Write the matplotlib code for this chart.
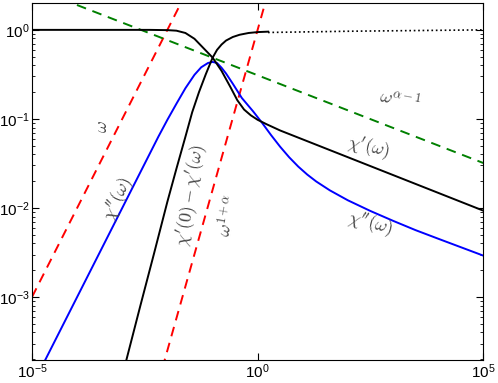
import numpy as np
import matplotlib.pyplot as plt
from matplotlib.ticker import FixedLocator, NullLocator, LogLocator

plt.rcParams['font.family'] = ['Liberation Sans', 'DejaVu Sans']
plt.rcParams['mathtext.fontset'] = 'cm'

# chi'(w) (log10 values)
re_lx = [-5.0, -2.4, -2.0, -1.8, -1.6, -1.4, -1.2, -1.0, -0.8, -0.6, -0.45,
         -0.3, -0.15, 0.0, 0.2, 0.5, 1.0, 2.0, 3.0, 4.0, 5.0]
re_ly = [0.0, 0.0, -0.003, -0.009, -0.035, -0.1, -0.205, -0.31, -0.46, -0.645, -0.79,
         -0.895, -0.96, -1.01, -1.06, -1.13, -1.23, -1.43, -1.63, -1.83, -2.03]

# chi'(0) - chi'(w)
dre_lx = [-3.1, -2.9, -2.6, -2.3, -2.0, -1.8, -1.6, -1.45, -1.3, -1.15, -1.0,
          -0.9, -0.8, -0.7, -0.55, -0.4, -0.2, 0.0, 0.233]
dre_ly = [-4.08, -3.69, -3.10, -2.52, -1.93, -1.56, -1.2, -0.925, -0.70, -0.50, -0.315,
          -0.225, -0.165, -0.12, -0.08, -0.055, -0.035, -0.025, -0.02]

# chi''(w)
im_lx = [-5.0, -4.5, -4.0, -3.5, -3.0, -2.5, -2.2, -2.0, -1.8, -1.6, -1.4, -1.25,
         -1.1, -1.0, -0.9, -0.8, -0.7, -0.55, -0.35, -0.1, 0.1, 0.3, 0.5, 0.7,
         0.9, 1.1, 1.3, 1.6, 2.0, 2.5, 3.0, 3.5, 4.0, 4.5, 5.0]
im_ly = [-4.0, -3.5, -3.0, -2.5, -2.0, -1.5, -1.2, -1.01, -0.83, -0.655, -0.505, -0.42,
         -0.372, -0.36, -0.372, -0.425, -0.49, -0.605, -0.765, -0.915, -1.045, -1.183, -1.313, -1.431,
         -1.535, -1.625, -1.703, -1.802, -1.914, -2.034, -2.144, -2.249, -2.345, -2.44, -2.535]

# dotted continuation
dot_x = [1.7, 100.0, 1e5]
dot_y = [0.935, 0.965, 1.0]

# asymptotes (end points)
w_x = [1e-5, 0.1]
w_y = [1e-3, 10.0]
w1a_x = [1e-3, 10.0]
w1a_y = [10**-5.4, 10**1.8]
wa1_x = [1e-5, 1e5]
wa1_y = [2.99, 0.032]

fig = plt.figure(figsize=(4.98, 3.83), dpi=100)
ax = fig.add_axes([0.0643, 0.060, 0.906, 0.932])

ax.plot(w_x, w_y, '--', color='red', lw=1.4, dashes=(5, 3.5))
ax.plot(w1a_x, w1a_y, '--', color='red', lw=1.4, dashes=(5, 3.5))
ax.plot(wa1_x, wa1_y, '--', color='green', lw=1.4, dashes=(5, 3.5))
ax.plot(10**np.array(im_lx), 10**np.array(im_ly), color='blue', lw=1.4)
ax.plot(10**np.array(re_lx), 10**np.array(re_ly), color='black', lw=1.4)
ax.plot(10**np.array(dre_lx), 10**np.array(dre_ly), color='black', lw=1.4)
ax.plot(dot_x, dot_y, ':', color='black', lw=1.2)

ax.set_xscale('log')
ax.set_yscale('log')
ax.set_xlim(1e-5, 1e5)
ax.set_ylim(1.96e-4, 2.0)

ax.xaxis.set_major_locator(FixedLocator([1e-5, 1e0, 1e5]))
ax.xaxis.set_minor_locator(NullLocator())
ax.yaxis.set_major_locator(LogLocator(base=10))
ax.yaxis.set_minor_locator(LogLocator(base=10, subs=np.arange(2, 10)))
ax.tick_params(which='both', direction='in', top=True, right=True, labelsize=11, pad=2)
ax.tick_params(which='major', length=5)
ax.tick_params(which='minor', length=2.5)

tc = '0.25'
ax.text(3.7e-4, 0.081, r'$\omega$', rotation=90, fontsize=13, color=tc, ha='center', va='center')
ax.text(8.5e-4, 0.0125, r"$\chi''(\omega)$", rotation=66, fontsize=13, color=tc, ha='center', va='center')
ax.text(0.034, 0.014, r"$\chi'(0)-\chi'(\omega)$", rotation=81, fontsize=13, color=tc, ha='center', va='center')
ax.text(0.22, 0.0083, r'$\omega^{1+\alpha}$', rotation=80, fontsize=13, color=tc, ha='center', va='center')
ax.text(1450, 0.163, r'$\omega^{\alpha-1}$', rotation=-10, fontsize=13, color=tc, ha='center', va='center')
ax.text(280, 0.047, r"$\chi'(\omega)$", rotation=-12, fontsize=13, color=tc, ha='center', va='center')
ax.text(310, 0.0065, r"$\chi''(\omega)$", rotation=-14, fontsize=13, color=tc, ha='center', va='center')

fig.savefig('out.png', dpi=100)
